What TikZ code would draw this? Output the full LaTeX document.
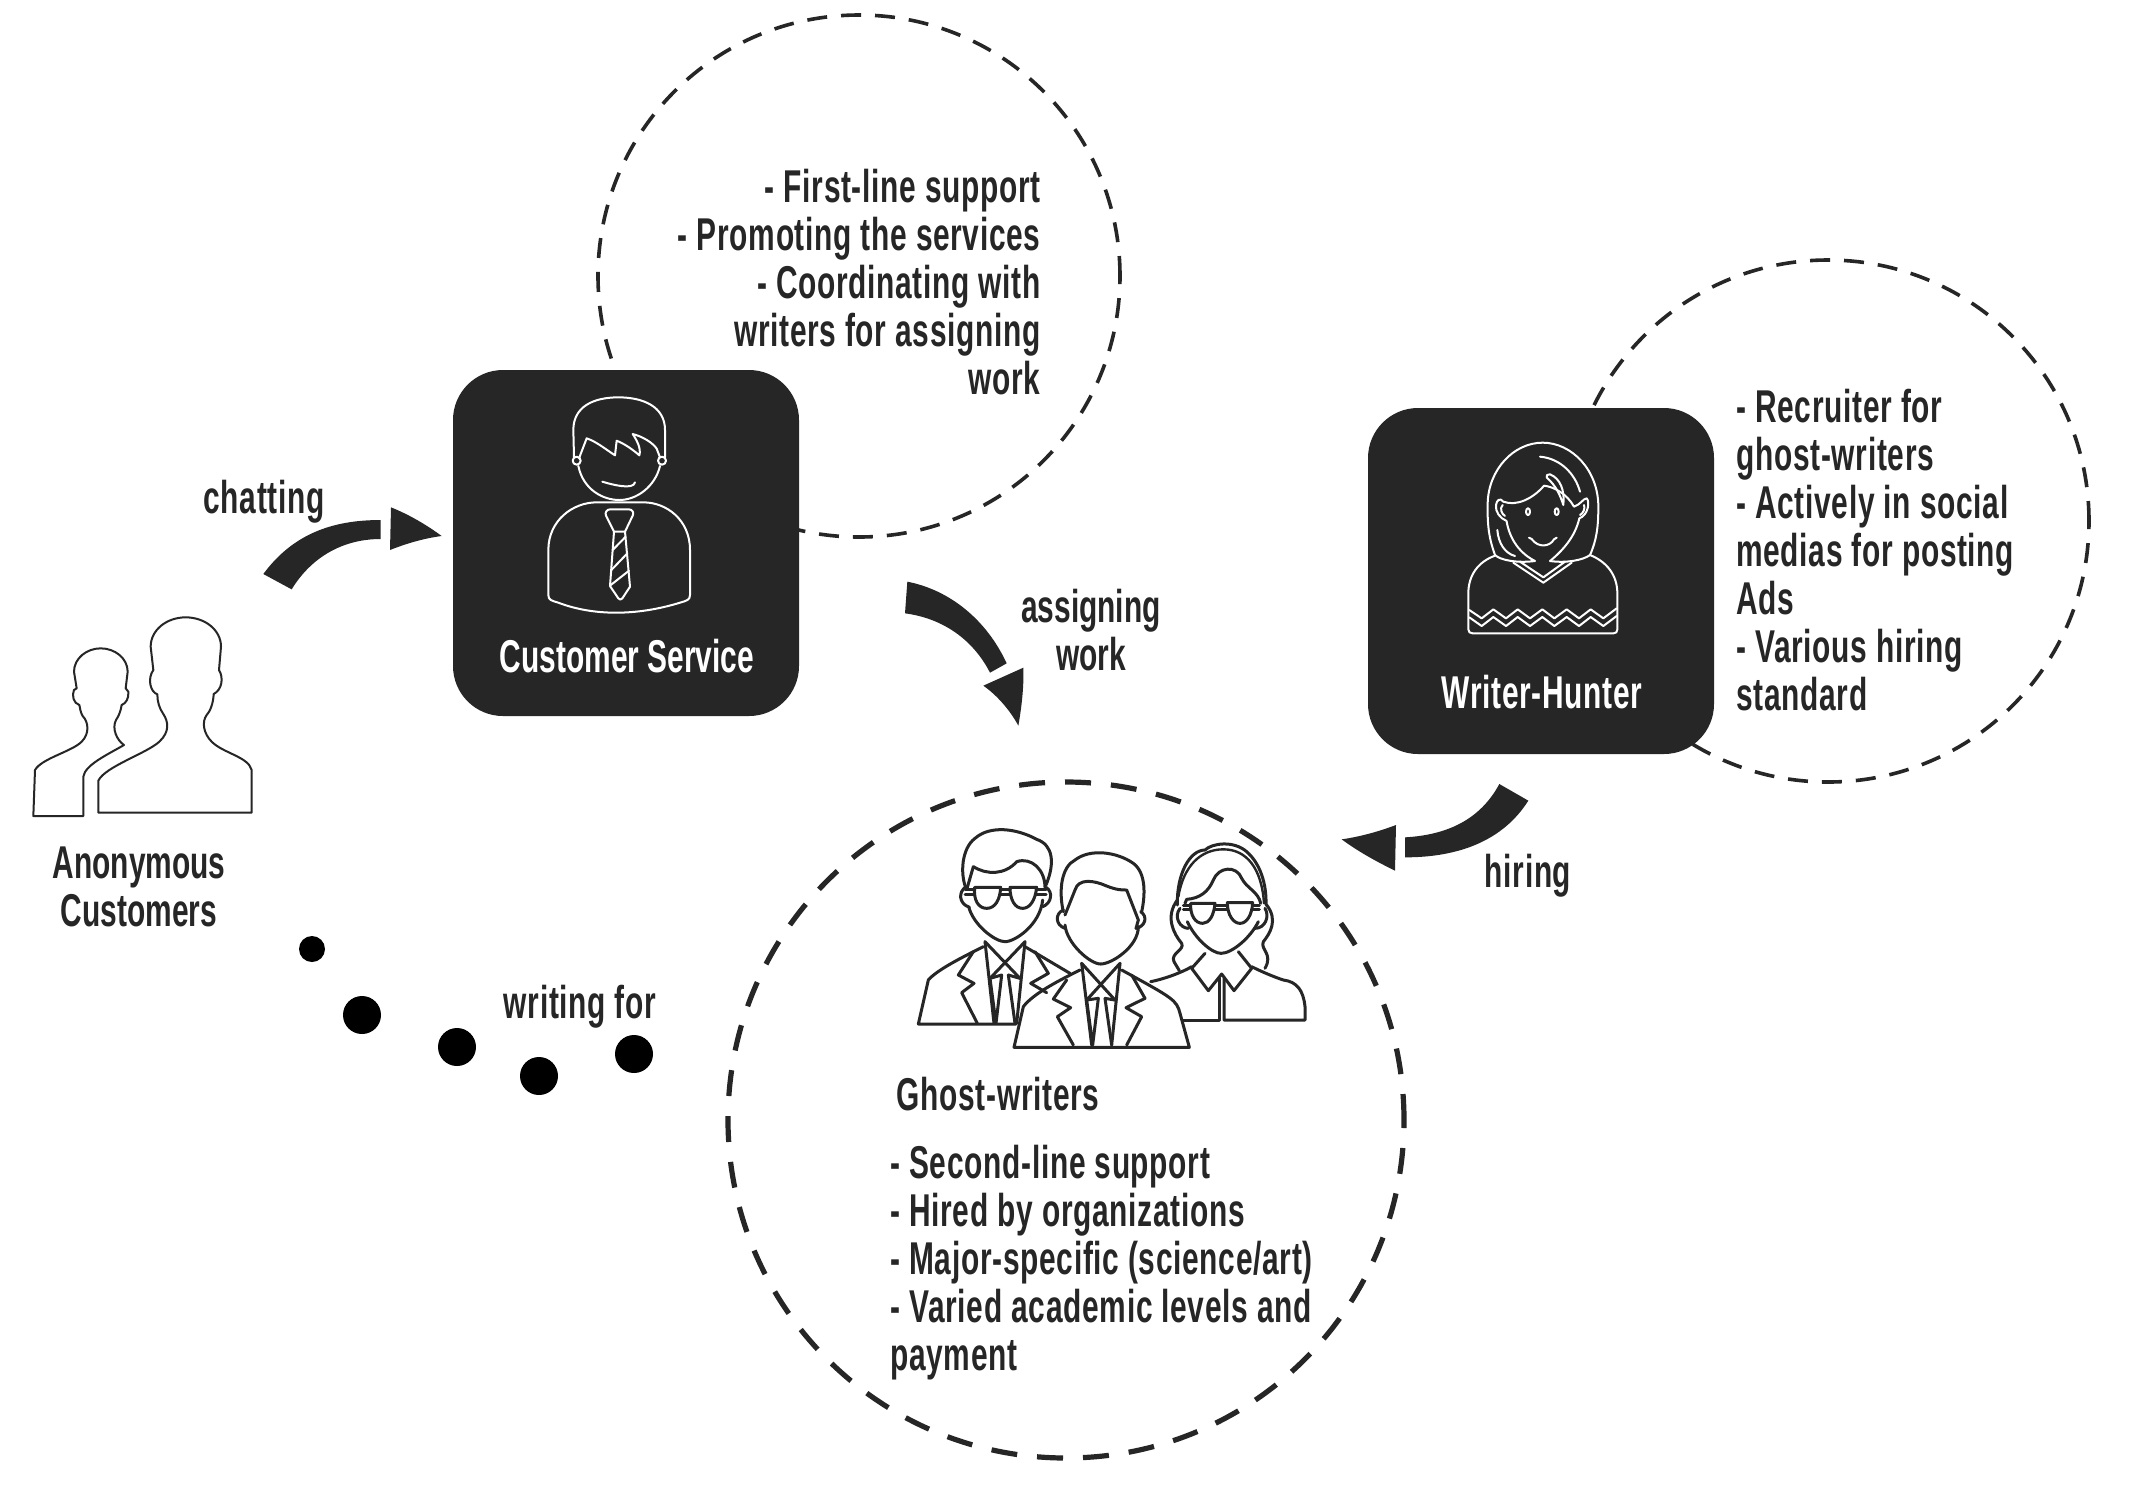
\documentclass[tikz,border=0pt]{standalone}
\usepackage{fontspec}
\setmainfont[FakeStretch=0.65,LetterSpace=1.5]{Liberation Sans Bold}
\newfontfamily\tightfont[FakeStretch=0.65]{Liberation Sans Bold}
\definecolor{ink}{HTML}{262626}
\tikzset{
  zoomed/.style={x=0.166667pt,y=-0.166667pt},
  darkbox/.style={fill=ink,rounded corners=25pt,minimum width=173pt,minimum height=173pt,inner sep=0pt,outer sep=0pt},
  label/.style={text=ink,font=\fontsize{23}{24}\selectfont,inner sep=0pt,align=center},
  tightlabel/.style={label,font=\fontsize{23}{24}\selectfont\tightfont},
  boxlabel/.style={label,text=white},
  notes/.style={label},
  thinring/.style={draw=ink,line width=1.8pt,dash pattern=on 10pt off 7pt},
  thickring/.style={draw=ink,line width=2.6pt,dash pattern=on 13pt off 10pt},
  wline/.style={draw=white,line width=1pt,line join=round,line cap=round},
  kline/.style={draw=ink,line width=1.5pt,line join=round,line cap=round},
  sline/.style={draw=ink,line width=1pt,line join=round},
  dot/.style={circle,fill=black,inner sep=0pt,outer sep=0pt},
}
\begin{document}
\begin{tikzpicture}[x=0.5pt,y=-0.5pt]
\useasboundingbox[fill=white] (0,0) rectangle (2144,1496);

% dashed rings
\coordinate (ringA) at (859,276);
\coordinate (ringB) at (1828,521);
\coordinate (ringC) at (1066,1120);
\draw[thinring] (ringA) circle[radius=130.5pt];
\draw[thinring] (ringB) circle[radius=130.5pt];
\draw[thickring] (ringC) circle[radius=169pt];

% boxes
\node[darkbox] (cs) at (626,543) {};
\node[darkbox] (wh) at (1541,581) {};

% Customer Service icon
\begin{scope}[shift={(430,350)},zoomed]
  \draw[wline] (432,322) -- (430,240) .. controls (430,170) and (490,142) .. (565,142) .. controls (640,142) and (705,170) .. (705,240) -- (705,322);
  \draw[wline] (447,325) -- (470,265) .. controls (500,275) and (530,300) .. (555,316) -- (560,272) .. controls (585,282) and (610,300) .. (628,316) .. controls (634,295) and (620,270) .. (608,252) .. controls (640,260) and (670,280) .. (680,296) -- (690,322);
  \draw[wline] (445,348) .. controls (460,420) and (520,450) .. (568,450) .. controls (620,450) and (675,410) .. (690,348);
  \draw[wline] (440,332) circle[radius=2pt];
  \draw[wline] (696,332) circle[radius=2pt];
  \draw[wline] (517,395) .. controls (550,405) and (610,420) .. (615,397);
  \draw[wline] (355,735) -- (355,600) .. controls (355,510) and (430,457) .. (500,457) -- (640,457) .. controls (710,457) and (780,510) .. (780,600) -- (780,735) .. controls (780,750) and (770,752) .. (750,758) .. controls (620,798) and (490,798) .. (385,758) .. controls (365,752) and (355,750) .. (355,735) -- cycle;
  \draw[wline] (552,545) -- (528,497) .. controls (524,488) and (530,478) .. (540,478) -- (597,478) .. controls (607,478) and (613,488) .. (608,497) -- (585,545) -- cycle;
  \draw[wline] (552,545) -- (540,708) -- (565,745) .. controls (570,750) and (572,750) .. (577,745) -- (600,710) -- (585,545);
  \draw[wline] (548,600) -- (587,560);
  \draw[wline] (544,660) -- (592,610);
  \draw[wline] (541,706) -- (597,662);
\end{scope}
\node[tightlabel,text=white] (cslabel) at (627,656) {Customer Service};

% Writer-Hunter icon
\begin{scope}[shift={(1350,390)},zoomed]
  \draw[wline] (435,495) .. controls (415,440) and (412,400) .. (413,340) .. controls (415,240) and (490,158) .. (578,158) .. controls (665,158) and (745,240) .. (745,350) .. controls (745,410) and (740,450) .. (720,495);
  \draw[wline] (435,495) .. controls (450,510) and (500,520) .. (555,513) .. controls (510,490) and (480,450) .. (470,395);
  \draw[wline] (600,513) .. controls (640,480) and (675,440) .. (688,385);
  \draw[wline] (600,513) .. controls (650,520) and (700,510) .. (720,495);
  \draw[wline] (470,393) .. controls (450,385) and (435,365) .. (438,345) .. controls (440,330) and (450,322) .. (460,335) .. controls (500,350) and (550,325) .. (582,287) .. controls (610,290) and (650,310) .. (672,350) .. controls (690,345) and (700,325) .. (710,325) .. controls (720,335) and (715,375) .. (688,385);
  \draw[wline] (458,345) .. controls (448,355) and (455,372) .. (465,378);
  \draw[wline] (702,345) .. controls (706,355) and (700,370) .. (690,375);
  \draw[wline] (534,365) ellipse[x radius=1pt,y radius=1.7pt];
  \draw[wline] (620,365) ellipse[x radius=1pt,y radius=1.7pt];
  \draw[wline] (537,443) -- (545,447) .. controls (565,475) and (600,470) .. (612,448) -- (620,443);
  \draw[wline] (570,200) .. controls (630,205) and (675,250) .. (690,305);
  \draw[wline] (590,262) .. controls (620,290) and (630,315) .. (640,345) .. controls (645,300) and (630,265) .. (600,253) .. controls (592,252) and (588,256) .. (590,262);
  \draw[wline] (442,420) .. controls (445,460) and (465,490) .. (495,498);
  \draw[wline] (435,497) .. controls (385,515) and (355,555) .. (355,610) -- (355,718) .. controls (355,726) and (360,730) .. (368,730) -- (790,730) .. controls (798,730) and (802,726) .. (802,718) -- (802,610) .. controls (802,555) and (770,515) .. (720,495);
  \draw[wline] (490,518) -- (580,578) -- (665,518);
  \draw[wline] (510,515) -- (580,562) -- (645,515);
  \draw[wline] (358,660) -- (395,685) -- (430,658) -- (468,685) -- (503,658) -- (540,685) -- (577,658) -- (613,685) -- (650,658) -- (687,685) -- (722,658) -- (760,685) -- (800,655);
  \draw[wline] (358,682) -- (395,708) -- (430,681) -- (468,708) -- (503,681) -- (540,708) -- (577,681) -- (613,708) -- (650,681) -- (687,708) -- (722,681) -- (760,708) -- (800,678);
\end{scope}
\node[boxlabel] (whlabel) at (1542,692) {Writer-Hunter};

% Anonymous customers icon
\begin{scope}[shift={(0,590)},zoomed]
  \draw[sline] (100,678) -- (105,540) .. controls (125,505) and (215,485) .. (245,455) .. controls (270,430) and (265,395) .. (248,378) .. controls (240,365) and (240,350) .. (238,345) .. controls (220,340) and (215,315) .. (222,300) -- (230,295) -- (222,245) .. controls (222,205) and (260,175) .. (302,175) .. controls (345,175) and (383,205) .. (383,245) -- (377,295) -- (385,305) .. controls (387,325) and (378,340) .. (365,345) .. controls (362,365) and (355,380) .. (348,390) .. controls (335,415) and (350,450) .. (372,465) .. controls (320,495) and (255,525) .. (250,560) -- (250,678) -- cycle;
  \draw[sline] (295,668) -- (295,572) .. controls (315,530) and (440,490) .. (478,455) .. controls (510,425) and (505,395) .. (490,372) .. controls (478,355) and (472,335) .. (472,313) .. controls (450,305) and (442,265) .. (460,240) -- (452,170) .. controls (452,120) and (500,82) .. (557,82) .. controls (615,82) and (663,120) .. (663,170) -- (657,240) .. controls (672,265) and (665,300) .. (641,312) .. controls (640,340) and (630,365) .. (620,375) .. controls (605,395) and (610,430) .. (635,455) .. controls (670,490) and (745,500) .. (755,540) -- (755,668) -- cycle;
\end{scope}
\node[tightlabel] (anon) at (139,887) {Anonymous\\Customers};

% People
\begin{scope}[shift={(890,810)},zoomed]
  % woman
  \draw[kline] (862,285) .. controls (860,190) and (900,120) .. (945,120) .. controls (965,100) and (1030,90) .. (1070,125) .. controls (1110,160) and (1130,220) .. (1128,285);
  \draw[kline,line width=1.2pt] (865,260) .. controls (880,170) and (930,118) .. (1000,118) .. controls (1070,118) and (1115,175) .. (1122,280);
  \draw[kline] (885,280) -- (890,268) .. controls (930,265) and (955,245) .. (970,210) .. controls (985,170) and (1040,165) .. (1055,205) .. controls (1070,235) and (1105,245) .. (1112,280);
  \draw[kline] (902,280) -- (975,280) .. controls (972,315) and (958,340) .. (938,340) .. controls (915,340) and (900,315) .. (902,280) -- cycle;
  \draw[kline] (1012,278) -- (1088,278) .. controls (1086,315) and (1070,340) .. (1050,340) .. controls (1030,340) and (1012,315) .. (1012,278) -- cycle;
  \draw[kline] (975,285) -- (1012,285);
  \draw[kline] (975,298) -- (1012,298);
  \draw[kline] (880,285) -- (902,285);
  \draw[kline] (880,298) -- (902,298);
  \draw[kline] (1088,285) -- (1108,285);
  \draw[kline] (1088,298) -- (1108,298);
  \draw[kline] (892,335) .. controls (915,385) and (965,430) .. (993,430) .. controls (1025,430) and (1080,385) .. (1105,335);
  \draw[kline] (862,270) .. controls (825,320) and (850,370) .. (875,400) .. controls (885,420) and (840,430) .. (852,455) -- (868,482);
  \draw[kline] (1130,285) .. controls (1165,330) and (1140,370) .. (1120,395) .. controls (1110,420) and (1150,430) .. (1125,475);
  \draw[kline] (870,295) .. controls (850,320) and (870,355) .. (895,355);
  \draw[kline] (1125,295) .. controls (1140,320) and (1125,355) .. (1095,355);
  \draw[kline] (945,430) -- (905,475) -- (955,542) -- (995,492) -- (1032,542) -- (1085,475) -- (1045,425);
  \draw[kline] (987,505) -- (987,630) -- (880,630);
  \draw[kline] (1002,505) -- (1002,630) -- (1245,630) -- (1245,590) .. controls (1240,540) and (1220,515) .. (1180,510) .. controls (1150,500) and (1115,485) .. (1085,470);
  \draw[kline] (782,515) .. controls (830,505) and (880,485) .. (905,470);
  % man left
  \draw[kline] (228,235) .. controls (210,190) and (215,115) .. (255,85) .. controls (300,45) and (380,55) .. (440,88) .. controls (490,105) and (495,160) .. (468,225);
  \draw[kline] (232,232) -- (250,170) .. controls (290,195) and (345,195) .. (380,155) .. controls (425,140) and (465,180) .. (465,232);
  \draw[kline] (228,230) .. controls (205,245) and (205,280) .. (238,292);
  \draw[kline] (468,232) .. controls (490,245) and (485,280) .. (458,290);
  \draw[kline] (254,232) -- (332,232) .. controls (330,270) and (315,295) .. (290,295) .. controls (265,295) and (250,270) .. (254,232) -- cycle;
  \draw[kline] (360,232) -- (440,232) .. controls (436,270) and (420,295) .. (398,295) .. controls (375,295) and (360,270) .. (360,232) -- cycle;
  \draw[kline] (332,238) -- (360,238);
  \draw[kline] (332,252) -- (360,252);
  \draw[kline] (225,238) -- (254,238);
  \draw[kline] (225,252) -- (254,252);
  \draw[kline] (438,238) -- (468,238);
  \draw[kline] (438,252) -- (468,252);
  \draw[kline] (236,290) .. controls (250,345) and (315,395) .. (345,395) .. controls (375,395) and (450,345) .. (458,270);
  \draw[kline] (285,395) -- (312,640);
  \draw[kline] (405,395) -- (380,640);
  \draw[kline] (285,395) -- (390,505);
  \draw[kline] (405,395) -- (300,505);
  \draw[kline] (300,505) -- (318,640) -- (335,495) -- (300,505);
  \draw[kline] (355,495) -- (375,640);
  \draw[kline] (355,495) -- (390,505);
  \draw[kline] (280,410) .. controls (220,440) and (140,480) .. (115,510) -- (85,642) -- (378,642);
  \draw[kline] (405,410) -- (540,490);
  \draw[kline] (250,425) -- (205,495) -- (252,520) -- (215,548) -- (262,640);
  \draw[kline] (435,425) -- (475,490) -- (422,520) -- (470,548);
  % man centre
  \draw[kline] (520,305) .. controls (505,240) and (515,170) .. (555,150) .. controls (600,115) and (680,125) .. (730,160) .. controls (770,190) and (765,260) .. (755,305);
  \draw[kline] (525,315) -- (555,240) .. controls (565,205) and (610,210) .. (650,228) .. controls (680,240) and (695,240) .. (710,240) -- (745,330) -- (738,355);
  \draw[kline] (520,300) .. controls (495,310) and (495,345) .. (525,355);
  \draw[kline] (752,305) .. controls (775,320) and (765,350) .. (738,355);
  \draw[kline] (525,345) .. controls (530,400) and (600,462) .. (632,462) .. controls (665,462) and (745,410) .. (745,350);
  \draw[kline] (575,460) -- (605,705);
  \draw[kline] (690,460) -- (665,705);
  \draw[kline] (575,460) -- (675,570);
  \draw[kline] (690,460) -- (590,570);
  \draw[kline] (590,570) -- (608,705) -- (625,565) -- (590,570);
  \draw[kline] (645,565) -- (665,705);
  \draw[kline] (645,565) -- (675,570);
  \draw[kline] (570,480) .. controls (510,510) and (430,550) .. (400,590) -- (372,712) -- (898,712) -- (870,610) .. controls (860,570) and (850,565) .. (695,480);
  \draw[kline] (530,510) -- (490,567) -- (542,593) -- (502,620) -- (550,705);
  \draw[kline] (725,495) -- (765,565) -- (708,593) -- (755,620) -- (710,705);
\end{scope}
\node[label] (ghost) at (998,1094) {Ghost-writers};

% arrows
\begin{scope}[shift={(240,470)},zoomed]
  \fill[ink] (70,312) .. controls (160,190) and (280,150) .. (422,150) -- (422,207) .. controls (310,207) and (215,260) .. (155,358) -- cycle;
  \fill[ink] (453,112) .. controls (510,135) and (560,165) .. (605,198) .. controls (550,205) and (495,222) .. (450,240) -- cycle;
\end{scope}
\begin{scope}[shift={(880,570)},zoomed]
  \fill[ink] (82,35) .. controls (210,60) and (320,150) .. (380,280) -- (330,308) .. controls (280,210) and (190,145) .. (75,130) -- cycle;
  \fill[ink] (430,293) .. controls (432,350) and (425,410) .. (415,467) .. controls (390,420) and (350,375) .. (310,347) -- cycle;
\end{scope}
\begin{scope}[shift={(1320,770)},zoomed]
  \fill[ink] (625,92) .. controls (550,210) and (420,262) .. (255,262) -- (255,202) .. controls (380,195) and (480,150) .. (538,42) -- cycle;
  \fill[ink] (228,165) -- (225,302) .. controls (170,275) and (115,245) .. (65,208) .. controls (120,200) and (175,185) .. (228,165) -- cycle;
\end{scope}

% dots
\node[dot,minimum size=13pt] (d1) at (312,949) {};
\node[dot,minimum size=19pt] (d2) at (362,1015) {};
\node[dot,minimum size=19pt] (d3) at (457,1047) {};
\node[dot,minimum size=19pt] (d4) at (539,1076) {};
\node[dot,minimum size=19pt] (d5) at (634,1054) {};

% labels
\node[label] (chat) at (264,502) {chatting};
\node[tightlabel] (assign) at (1091,630) {assigning\\work};
\node[label] (hire) at (1528,876) {hiring};
\node[label] (write) at (580,1007) {writing for};
\node[notes,align=right,anchor=east] (notesA) at (1041,282) {- First-line support\\- Promoting the services\\- Coordinating with\\writers for assigning\\work};
\node[notes,align=left,anchor=west] (notesB) at (1736,550) {- Recruiter for\\ghost-writers\\- Actively in social\\medias for posting\\Ads\\- Various hiring\\standard};
\node[notes,align=left,anchor=west] (notesC) at (890,1263) {- Second-line support\\- Hired by organizations\\- Major-specific (science/art)\\- Varied academic levels and\\payment};
\end{tikzpicture}
\end{document}
